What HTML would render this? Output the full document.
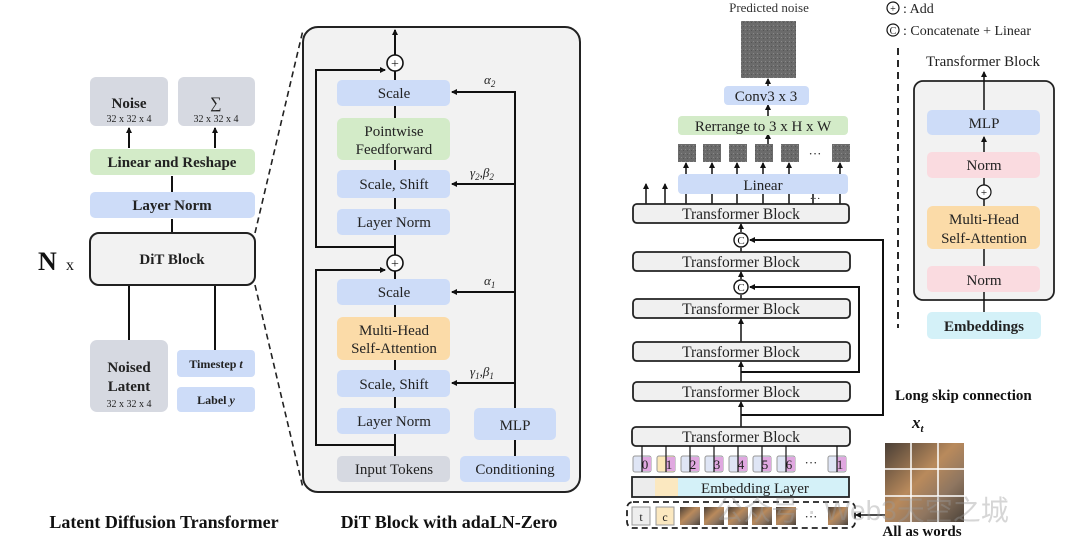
<!DOCTYPE html>
<html><head><meta charset="utf-8"><style>
html,body{margin:0;padding:0;background:#fff;}
svg{display:block;font-family:"Liberation Serif",serif;}
</style></head><body>
<svg width="1080" height="554" viewBox="0 0 1080 554" xmlns="http://www.w3.org/2000/svg">
<defs>
<marker id="a" markerWidth="6" markerHeight="6" refX="5" refY="3" orient="auto" markerUnits="userSpaceOnUse"><path d="M0,0 L6,3 L0,6 z" fill="#111"/></marker>
<pattern id="g" width="4" height="4" patternUnits="userSpaceOnUse"><rect width="4" height="4" fill="#6b6b6b"/><rect x="1" y="1" width="1" height="1" fill="#888"/><rect x="3" y="2" width="1" height="1" fill="#555"/></pattern>
<linearGradient id="dog" x1="0" y1="0" x2="1" y2="1"><stop offset="0" stop-color="#4a3f36"/><stop offset="0.45" stop-color="#b98a5c"/><stop offset="0.7" stop-color="#8f7660"/><stop offset="1" stop-color="#4b4239"/></linearGradient>
</defs>

<!-- ========== LEFT PANEL ========== -->
<g stroke="#111" stroke-width="2" fill="none">
<line x1="129" y1="148" x2="129" y2="128" marker-end="url(#a)"/>
<line x1="215" y1="148" x2="215" y2="128" marker-end="url(#a)"/>
<line x1="172" y1="192" x2="172" y2="176"/>
<line x1="172" y1="233" x2="172" y2="219"/>
<line x1="129" y1="285" x2="129" y2="340"/>
<line x1="215" y1="285" x2="215" y2="350"/>
</g>
<rect x="90" y="77" width="78" height="49" rx="6" fill="#d6d9e1"/>
<rect x="178" y="77" width="77" height="49" rx="6" fill="#d6d9e1"/>
<text x="129" y="108" font-size="15" font-weight="bold" text-anchor="middle" fill="#222">Noise</text>
<text x="129" y="122" font-size="10" text-anchor="middle" fill="#222">32 x 32 x 4</text>
<text x="216" y="108" font-size="16" text-anchor="middle" fill="#222">∑</text>
<text x="216" y="122" font-size="10" text-anchor="middle" fill="#222">32 x 32 x 4</text>
<rect x="90" y="149" width="165" height="26" rx="5" fill="#d3ebc8"/>
<text x="172" y="167" font-size="15" font-weight="bold" text-anchor="middle" fill="#222">Linear and Reshape</text>
<rect x="90" y="192" width="165" height="26" rx="5" fill="#cddcf8"/>
<text x="172" y="210" font-size="15" font-weight="bold" text-anchor="middle" fill="#222">Layer Norm</text>
<rect x="90" y="233" width="165" height="52" rx="9" fill="#f2f2f2" stroke="#222" stroke-width="2"/>
<text x="172" y="264" font-size="15" font-weight="bold" text-anchor="middle" fill="#222">DiT Block</text>
<text x="38" y="270" font-size="26" font-weight="bold" fill="#111">N</text>
<text x="66" y="270" font-size="16" fill="#111">x</text>
<rect x="90" y="340" width="78" height="72" rx="7" fill="#d6d9e1"/>
<text x="129" y="372" font-size="15" font-weight="bold" text-anchor="middle" fill="#222">Noised</text>
<text x="129" y="391" font-size="15" font-weight="bold" text-anchor="middle" fill="#222">Latent</text>
<text x="129" y="407" font-size="10" text-anchor="middle" fill="#222">32 x 32 x 4</text>
<rect x="177" y="350" width="78" height="27" rx="4" fill="#cddcf8"/>
<text x="216" y="368" font-size="12" font-weight="bold" text-anchor="middle" fill="#222">Timestep <tspan font-style="italic">t</tspan></text>
<rect x="177" y="387" width="78" height="25" rx="4" fill="#cddcf8"/>
<text x="216" y="404" font-size="12" font-weight="bold" text-anchor="middle" fill="#222">Label <tspan font-style="italic">y</tspan></text>
<text x="164" y="528" font-size="18" font-weight="bold" text-anchor="middle" fill="#111">Latent Diffusion Transformer</text>

<!-- dashed zoom lines -->
<line x1="255" y1="233" x2="303" y2="30" stroke="#222" stroke-width="1.6" stroke-dasharray="6,4"/>
<line x1="255" y1="285" x2="303" y2="488" stroke="#222" stroke-width="1.6" stroke-dasharray="6,4"/>

<!-- ========== MIDDLE PANEL ========== -->
<rect x="303" y="27" width="277" height="465" rx="15" fill="#f2f2f2" stroke="#222" stroke-width="2"/>
<g stroke="#111" stroke-width="2" fill="none">
<line x1="395" y1="55" x2="395" y2="30" marker-end="url(#a)"/>
<line x1="395" y1="80" x2="395" y2="71"/>
<line x1="395" y1="118" x2="395" y2="106"/>
<line x1="395" y1="170" x2="395" y2="160"/>
<line x1="395" y1="209" x2="395" y2="198"/>
<line x1="395" y1="255" x2="395" y2="235"/>
<polyline points="395,247 316,247 316,70 385,70" marker-end="url(#a)"/>
<line x1="395" y1="279" x2="395" y2="271"/>
<line x1="395" y1="317" x2="395" y2="305"/>
<line x1="395" y1="370" x2="395" y2="360"/>
<line x1="395" y1="408" x2="395" y2="397"/>
<line x1="395" y1="456" x2="395" y2="434"/>
<polyline points="395,445 316,445 316,270 385,270" marker-end="url(#a)"/>
<line x1="515" y1="456" x2="515" y2="440"/>
<polyline points="515,408 515,92 452,92" marker-end="url(#a)"/>
<line x1="515" y1="184" x2="452" y2="184" marker-end="url(#a)"/>
<line x1="515" y1="292" x2="452" y2="292" marker-end="url(#a)"/>
<line x1="515" y1="383" x2="452" y2="383" marker-end="url(#a)"/>
</g>
<circle cx="395" cy="63" r="8" fill="#fff" stroke="#111" stroke-width="1.6"/>
<text x="395" y="68" font-size="14" text-anchor="middle" fill="#111">+</text>
<circle cx="395" cy="263" r="8" fill="#fff" stroke="#111" stroke-width="1.6"/>
<text x="395" y="268" font-size="14" text-anchor="middle" fill="#111">+</text>
<g font-size="15" text-anchor="middle" fill="#222">
<rect x="337" y="80" width="113" height="26" rx="5" fill="#cddcf8"/><text x="394" y="98">Scale</text>
<rect x="337" y="118" width="113" height="42" rx="6" fill="#d3ebc8"/><text x="394" y="136">Pointwise</text><text x="394" y="154">Feedforward</text>
<rect x="337" y="170" width="113" height="28" rx="5" fill="#cddcf8"/><text x="394" y="189">Scale, Shift</text>
<rect x="337" y="209" width="113" height="26" rx="5" fill="#cddcf8"/><text x="394" y="227">Layer Norm</text>
<rect x="337" y="279" width="113" height="26" rx="5" fill="#cddcf8"/><text x="394" y="297">Scale</text>
<rect x="337" y="317" width="113" height="43" rx="6" fill="#fbdba8"/><text x="394" y="335">Multi-Head</text><text x="394" y="353">Self-Attention</text>
<rect x="337" y="370" width="113" height="27" rx="5" fill="#cddcf8"/><text x="394" y="389">Scale, Shift</text>
<rect x="337" y="408" width="113" height="26" rx="5" fill="#cddcf8"/><text x="394" y="426">Layer Norm</text>
<rect x="337" y="456" width="113" height="26" rx="5" fill="#d6d9e1"/><text x="394" y="474">Input Tokens</text>
<rect x="474" y="408" width="82" height="32" rx="5" fill="#cddcf8"/><text x="515" y="430">MLP</text>
<rect x="460" y="456" width="110" height="26" rx="5" fill="#cddcf8"/><text x="515" y="474">Conditioning</text>
</g>
<g font-size="13" font-style="italic" fill="#222">
<text x="484" y="84">α<tspan font-size="9" dy="3">2</tspan></text>
<text x="470" y="177">γ<tspan font-size="9" dy="3">2</tspan><tspan dy="-3">,β</tspan><tspan font-size="9" dy="3">2</tspan></text>
<text x="484" y="285">α<tspan font-size="9" dy="3">1</tspan></text>
<text x="470" y="376">γ<tspan font-size="9" dy="3">1</tspan><tspan dy="-3">,β</tspan><tspan font-size="9" dy="3">1</tspan></text>
</g>
<text x="449" y="528" font-size="18" font-weight="bold" text-anchor="middle" fill="#111">DiT Block with adaLN-Zero</text>

<!-- ========== RIGHT PANEL ========== -->
<text x="769" y="12" font-size="13" text-anchor="middle" fill="#333">Predicted noise</text>
<rect x="741" y="21" width="55" height="57" fill="url(#g)"/>
<g stroke="#111" stroke-width="1.5" fill="none">
<line x1="768" y1="86" x2="768" y2="79" marker-end="url(#a)"/>
<line x1="768" y1="116" x2="768" y2="105" marker-end="url(#a)"/>
<line x1="768" y1="144" x2="768" y2="134" marker-end="url(#a)"/>
<line x1="686" y1="174" x2="686" y2="163" marker-end="url(#a)"/>
<line x1="712" y1="174" x2="712" y2="163" marker-end="url(#a)"/>
<line x1="737" y1="174" x2="737" y2="163" marker-end="url(#a)"/>
<line x1="763" y1="174" x2="763" y2="163" marker-end="url(#a)"/>
<line x1="789" y1="174" x2="789" y2="163" marker-end="url(#a)"/>
<line x1="840" y1="174" x2="840" y2="163" marker-end="url(#a)"/>
<line x1="646" y1="204" x2="646" y2="184" marker-end="url(#a)"/>
<line x1="665" y1="204" x2="665" y2="184" marker-end="url(#a)"/>
<line x1="686" y1="204" x2="686" y2="194"/><line x1="712" y1="204" x2="712" y2="194"/>
<line x1="737" y1="204" x2="737" y2="194"/><line x1="763" y1="204" x2="763" y2="194"/>
<line x1="789" y1="204" x2="789" y2="194"/><line x1="813" y1="204" x2="813" y2="194"/>
<line x1="840" y1="204" x2="840" y2="194"/>
<line x1="741" y1="232" x2="741" y2="224" marker-end="url(#a)"/>
<line x1="741" y1="252" x2="741" y2="248"/>
<line x1="741" y1="279" x2="741" y2="272" marker-end="url(#a)"/>
<line x1="741" y1="299" x2="741" y2="295"/>
<line x1="741" y1="342" x2="741" y2="319" marker-end="url(#a)"/>
<line x1="741" y1="382" x2="741" y2="362" marker-end="url(#a)"/>
<line x1="741" y1="427" x2="741" y2="402" marker-end="url(#a)"/>
<polyline points="741,372 859,372 859,287 750,287" marker-end="url(#a)" stroke-width="2"/>
<polyline points="741,415 883,415 883,240 750,240" marker-end="url(#a)" stroke-width="2"/>
</g>
<rect x="724" y="86" width="85" height="19" rx="4" fill="#cddcf8"/>
<text x="766" y="101" font-size="15" text-anchor="middle" fill="#222">Conv3 x 3</text>
<rect x="678" y="116" width="170" height="19" rx="4" fill="#d3ebc8"/>
<text x="763" y="131" font-size="15" text-anchor="middle" fill="#222">Rerrange to 3 x H x W</text>
<g fill="url(#g)">
<rect x="678" y="144" width="18" height="18"/><rect x="703" y="144" width="18" height="18"/>
<rect x="729" y="144" width="18" height="18"/><rect x="755" y="144" width="18" height="18"/>
<rect x="781" y="144" width="18" height="18"/><rect x="832" y="144" width="18" height="18"/>
</g>
<text x="815" y="158" font-size="13" text-anchor="middle" fill="#222">···</text>
<rect x="678" y="174" width="170" height="20" rx="4" fill="#cddcf8"/>
<text x="763" y="190" font-size="15" text-anchor="middle" fill="#222">Linear</text>
<text x="815" y="202" font-size="11" text-anchor="middle" fill="#222">···</text>
<g fill="#f0f0f0" stroke="#222" stroke-width="1.8">
<rect x="633" y="204" width="216" height="19" rx="4"/>
<rect x="633" y="252" width="217" height="19" rx="4"/>
<rect x="633" y="299" width="217" height="19" rx="4"/>
<rect x="633" y="342" width="217" height="19" rx="4"/>
<rect x="633" y="382" width="217" height="19" rx="4"/>
<rect x="632" y="427" width="218" height="19" rx="4"/>
</g>
<g font-size="15.5" text-anchor="middle" fill="#222">
<text x="741" y="219">Transformer Block</text>
<text x="741" y="267">Transformer Block</text>
<text x="741" y="314">Transformer Block</text>
<text x="741" y="357">Transformer Block</text>
<text x="741" y="397">Transformer Block</text>
<text x="741" y="442">Transformer Block</text>
</g>
<circle cx="741" cy="240" r="7" fill="#fff" stroke="#111" stroke-width="1.4"/>
<text x="741" y="244" font-size="11" text-anchor="middle" fill="#111">C</text>
<circle cx="741" cy="287" r="7" fill="#fff" stroke="#111" stroke-width="1.4"/>
<text x="741" y="291" font-size="11" text-anchor="middle" fill="#111">C</text>

<!-- tokens -->
<g stroke="#999" stroke-width="1">
<rect x="633" y="456" width="18" height="16" rx="2" fill="#dfe5f5"/>
<rect x="657" y="456" width="18" height="16" rx="2" fill="#fbe8b8"/>
<rect x="681" y="456" width="18" height="16" rx="2" fill="#dfe5f5"/>
<rect x="705" y="456" width="18" height="16" rx="2" fill="#dfe5f5"/>
<rect x="729" y="456" width="18" height="16" rx="2" fill="#dfe5f5"/>
<rect x="753" y="456" width="18" height="16" rx="2" fill="#dfe5f5"/>
<rect x="777" y="456" width="18" height="16" rx="2" fill="#dfe5f5"/>
<rect x="828" y="456" width="18" height="16" rx="2" fill="#dfe5f5"/>
</g>
<g fill="#e0a8e0">
<rect x="642" y="457" width="9" height="14"/><rect x="666" y="457" width="9" height="14"/>
<rect x="690" y="457" width="9" height="14"/><rect x="714" y="457" width="9" height="14"/>
<rect x="738" y="457" width="9" height="14"/><rect x="762" y="457" width="9" height="14"/>
<rect x="786" y="457" width="9" height="14"/><rect x="837" y="457" width="9" height="14"/>
</g>
<g font-size="13" text-anchor="middle" fill="#222">
<text x="645" y="469">0</text><text x="669" y="469">1</text><text x="693" y="469">2</text><text x="717" y="469">3</text>
<text x="741" y="469">4</text><text x="765" y="469">5</text><text x="789" y="469">6</text><text x="840" y="469">1</text>
<text x="811" y="467">···</text>
</g>
<g stroke="#111" stroke-width="1.2">
<line x1="642" y1="472" x2="642" y2="446"/><line x1="666" y1="472" x2="666" y2="446"/>
<line x1="690" y1="472" x2="690" y2="446"/><line x1="714" y1="472" x2="714" y2="446"/>
<line x1="738" y1="472" x2="738" y2="446"/><line x1="762" y1="472" x2="762" y2="446"/>
<line x1="786" y1="472" x2="786" y2="446"/><line x1="837" y1="472" x2="837" y2="446"/>
</g>
<rect x="632" y="477" width="217" height="20" fill="#d4f1f8" stroke="#222" stroke-width="1.8"/>
<rect x="633" y="478" width="22" height="18" fill="#ececec"/>
<rect x="655" y="478" width="23" height="18" fill="#fbe8c0"/>
<text x="755" y="493" font-size="15" text-anchor="middle" fill="#222">Embedding Layer</text>
<rect x="627" y="502" width="228" height="26" rx="6" fill="none" stroke="#222" stroke-width="1.8" stroke-dasharray="6,4"/>
<rect x="632" y="507" width="18" height="18" fill="#eee" stroke="#999"/>
<text x="641" y="521" font-size="12" text-anchor="middle" fill="#222">t</text>
<rect x="656" y="507" width="18" height="18" fill="#fbe8c0" stroke="#999"/>
<text x="665" y="521" font-size="12" text-anchor="middle" fill="#222">c</text>
<g fill="url(#dog)">
<rect x="680" y="507" width="20" height="18"/><rect x="704" y="507" width="20" height="18"/>
<rect x="728" y="507" width="20" height="18"/><rect x="752" y="507" width="20" height="18"/>
<rect x="776" y="507" width="20" height="18"/><rect x="828" y="507" width="20" height="18"/>
</g>
<text x="811" y="521" font-size="13" text-anchor="middle" fill="#222">···</text>
<line x1="885" y1="515" x2="856" y2="515" stroke="#111" stroke-width="1.5" marker-end="url(#a)"/>

<text x="895" y="400" font-size="15" font-weight="bold" fill="#111">Long skip connection</text>
<text x="912" y="428" font-size="17" font-weight="bold" font-style="italic" fill="#111">x<tspan font-size="11" dy="4">t</tspan></text>
<rect x="885" y="443" width="79" height="79" fill="url(#dog)"/>
<g stroke="#fff" stroke-width="1.5">
<line x1="911" y1="443" x2="911" y2="522"/><line x1="938" y1="443" x2="938" y2="522"/>
<line x1="885" y1="469" x2="964" y2="469"/><line x1="885" y1="496" x2="964" y2="496"/>
</g>
<text x="922" y="536" font-size="15" font-weight="bold" text-anchor="middle" fill="#111">All as words</text>
<text x="862" y="520" font-size="28" fill="#999" fill-opacity="0.4" font-family="Liberation Sans, Noto Sans CJK SC, sans-serif" text-anchor="middle">公众号 · Web3天空之城</text>

<!-- legend -->
<circle cx="893" cy="8" r="6" fill="#fff" stroke="#111" stroke-width="1.2"/>
<text x="893" y="12" font-size="10" text-anchor="middle" fill="#111">+</text>
<text x="903" y="13" font-size="14" fill="#222">: Add</text>
<circle cx="893" cy="30" r="6" fill="#fff" stroke="#111" stroke-width="1.2"/>
<text x="893" y="34" font-size="10" text-anchor="middle" fill="#111">C</text>
<text x="903" y="35" font-size="14" fill="#222">: Concatenate + Linear</text>
<line x1="898" y1="48" x2="898" y2="328" stroke="#111" stroke-width="1.8" stroke-dasharray="7,5"/>
<text x="983" y="66" font-size="15" text-anchor="middle" fill="#222">Transformer Block</text>
<rect x="914" y="81" width="140" height="219" rx="9" fill="#f2f2f2" stroke="#222" stroke-width="1.8"/>
<g stroke="#111" stroke-width="1.5" fill="none">
<line x1="984" y1="110" x2="984" y2="72" marker-end="url(#a)"/>
<line x1="984" y1="152" x2="984" y2="137" marker-end="url(#a)"/>
<line x1="984" y1="185" x2="984" y2="178"/>
<line x1="984" y1="206" x2="984" y2="199"/>
<line x1="984" y1="266" x2="984" y2="242" marker-end="url(#a)"/>
<line x1="984" y1="312" x2="984" y2="292"/>
</g>
<g font-size="15" text-anchor="middle" fill="#222">
<rect x="927" y="110" width="113" height="25" rx="5" fill="#cddcf8"/><text x="984" y="128">MLP</text>
<rect x="927" y="152" width="113" height="26" rx="5" fill="#fadbe0"/><text x="984" y="170">Norm</text>
<rect x="927" y="206" width="113" height="43" rx="6" fill="#fbdba8"/><text x="984" y="224">Multi-Head</text><text x="984" y="243">Self-Attention</text>
<rect x="927" y="266" width="113" height="26" rx="5" fill="#fadbe0"/><text x="984" y="285">Norm</text>
<rect x="927" y="312" width="114" height="27" rx="5" fill="#d4f1f8"/><text x="984" y="331" font-weight="bold">Embeddings</text>
</g>
<circle cx="984" cy="192" r="7" fill="#fff" stroke="#111" stroke-width="1.2"/>
<text x="984" y="196" font-size="11" text-anchor="middle" fill="#111">+</text>
</svg>
</body></html>
